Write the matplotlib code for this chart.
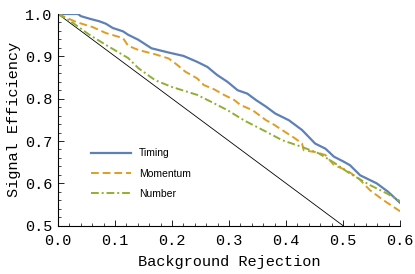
import matplotlib
matplotlib.use("Agg")
import matplotlib.pyplot as plt
from matplotlib.ticker import MultipleLocator

# values
timing_x = [0.0, 0.016, 0.035, 0.040, 0.055, 0.072, 0.084, 0.096, 0.114, 0.123,
            0.141, 0.164, 0.194, 0.220, 0.244, 0.262, 0.279, 0.297, 0.315, 0.332,
            0.347, 0.365, 0.381, 0.405, 0.428, 0.451, 0.469, 0.484, 0.500, 0.512,
            0.530, 0.559, 0.579, 0.600]
timing_y = [1.0, 1.0, 1.0, 0.995, 0.989, 0.983, 0.977, 0.967, 0.959, 0.951,
            0.939, 0.919, 0.909, 0.901, 0.887, 0.875, 0.856, 0.840, 0.820, 0.812,
            0.797, 0.781, 0.765, 0.749, 0.726, 0.694, 0.682, 0.663, 0.652, 0.643,
            0.619, 0.600, 0.580, 0.554]

momentum_x = [0.0, 0.032, 0.061, 0.084, 0.114, 0.123, 0.141, 0.170, 0.194, 0.208,
              0.223, 0.244, 0.256, 0.274, 0.291, 0.309, 0.320, 0.341, 0.365, 0.375,
              0.393, 0.416, 0.428, 0.431, 0.451, 0.469, 0.484, 0.506, 0.527, 0.547,
              0.571, 0.600]
momentum_y = [1.0, 0.981, 0.969, 0.955, 0.943, 0.925, 0.915, 0.905, 0.895, 0.881,
              0.864, 0.848, 0.832, 0.822, 0.809, 0.797, 0.785, 0.773, 0.749, 0.742,
              0.726, 0.706, 0.694, 0.678, 0.674, 0.667, 0.643, 0.631, 0.612, 0.584,
              0.560, 0.534]

number_x = [0.0, 0.026, 0.055, 0.084, 0.123, 0.141, 0.170, 0.199, 0.244, 0.268,
            0.297, 0.326, 0.365, 0.393, 0.428, 0.457, 0.484, 0.512, 0.547, 0.577,
            0.600]
number_y = [1.0, 0.979, 0.951, 0.927, 0.896, 0.872, 0.844, 0.828, 0.809, 0.793,
            0.773, 0.749, 0.722, 0.702, 0.686, 0.671, 0.649, 0.623, 0.596, 0.576,
            0.558]

diag_x = [0.0, 0.5]
diag_y = [1.0, 0.5]

mono = "Liberation Mono"

fig = plt.figure(figsize=(4.15, 2.74), dpi=100)
ax = fig.add_axes([0.1398, 0.1763, 0.8243, 0.7726])

ax.plot(diag_x, diag_y, color="black", linewidth=0.6)
ax.plot(timing_x, timing_y, color="#5E81B5", linewidth=1.6, label="Timing")
ax.plot(momentum_x, momentum_y, color="#E19C24", linewidth=1.4,
        linestyle=(0, (4, 2)), label="Momentum")
ax.plot(number_x, number_y, color="#8FB032", linewidth=1.4,
        linestyle=(0, (4, 1.5, 1, 1.5)), label="Number")

ax.set_xlim(0, 0.6)
ax.set_ylim(0.5, 1.0)
ax.xaxis.set_major_locator(MultipleLocator(0.1))
ax.xaxis.set_minor_locator(MultipleLocator(0.02))
ax.yaxis.set_major_locator(MultipleLocator(0.1))
ax.yaxis.set_minor_locator(MultipleLocator(0.02))
ax.xaxis.set_major_formatter(plt.FuncFormatter(lambda v, p: "%.1f" % v))
ax.yaxis.set_major_formatter(plt.FuncFormatter(lambda v, p: "%.1f" % v))

ax.spines["top"].set_visible(False)
ax.spines["right"].set_visible(False)
for s in ["left", "bottom"]:
    ax.spines[s].set_linewidth(0.8)
ax.tick_params(which="major", direction="in", length=4, width=0.6,
               labelsize=11)
ax.tick_params(axis="x", which="major", pad=6)
ax.tick_params(axis="y", which="major", pad=4)
ax.tick_params(which="minor", direction="in", length=2, width=0.5)
for lbl in ax.get_xticklabels() + ax.get_yticklabels():
    lbl.set_fontfamily(mono)

ax.set_xlabel("Background Rejection", fontfamily=mono, fontsize=11, labelpad=5)
ax.set_ylabel("Signal Efficiency", fontfamily=mono, fontsize=11, labelpad=3)

ax.legend(loc="upper left", bbox_to_anchor=(0.07, 0.41), frameon=False,
          prop={"family": "Liberation Sans", "size": 7.5}, handlelength=3.8,
          labelspacing=1.0, handletextpad=0.8)

fig.savefig("out.png", dpi=100)
